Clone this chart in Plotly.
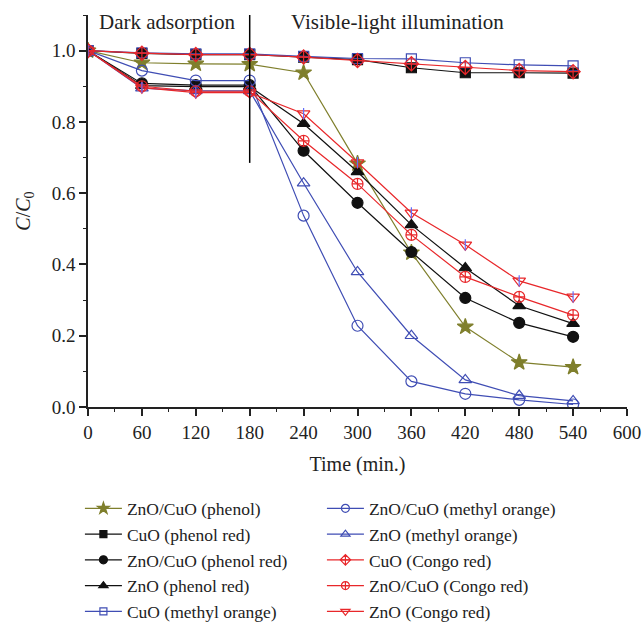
import plotly.graph_objects as go

time = [0, 60, 120, 180, 240, 300, 360, 420, 480, 540]

names = [
    "ZnO/CuO (phenol)", "CuO (phenol red)", "ZnO/CuO (phenol red)", "ZnO (phenol red)",
    "CuO (methyl orange)", "ZnO/CuO (methyl orange)", "ZnO (methyl orange)",
    "CuO (Congo red)", "ZnO/CuO (Congo red)", "ZnO (Congo red)",
]

znocuo_phenol = [1.0, 0.966, 0.963, 0.962, 0.938, 0.683, 0.433, 0.225, 0.125, 0.112]
cuo_phenolred = [1.0, 0.992, 0.989, 0.989, 0.982, 0.975, 0.952, 0.938, 0.938, 0.937]
znocuo_phenolred = [1.0, 0.908, 0.903, 0.903, 0.719, 0.573, 0.435, 0.306, 0.236, 0.197]
zno_phenolred = [1.0, 0.902, 0.899, 0.899, 0.795, 0.660, 0.511, 0.390, 0.284, 0.234]
cuo_mo = [1.0, 0.994, 0.991, 0.991, 0.984, 0.978, 0.977, 0.966, 0.960, 0.957]
znocuo_mo = [1.0, 0.944, 0.916, 0.916, 0.537, 0.228, 0.072, 0.037, 0.020, 0.007]
zno_mo = [1.0, 0.895, 0.887, 0.887, 0.628, 0.379, 0.200, 0.076, 0.032, 0.017]
cuo_congo = [1.0, 0.993, 0.989, 0.989, 0.982, 0.972, 0.963, 0.953, 0.944, 0.941]
znocuo_congo = [1.0, 0.900, 0.886, 0.886, 0.747, 0.626, 0.483, 0.365, 0.309, 0.258]
zno_congo = [1.0, 0.896, 0.882, 0.882, 0.823, 0.686, 0.545, 0.455, 0.354, 0.309]

series = [znocuo_phenol, cuo_phenolred, znocuo_phenolred, zno_phenolred, cuo_mo,
          znocuo_mo, zno_mo, cuo_congo, znocuo_congo, zno_congo]

OLIVE = "#7f7f2c"
BLUE = "#3f4db4"
RED = "#e8272a"
BLACK = "#111111"

colors = [OLIVE, BLACK, BLACK, BLACK, BLUE, BLUE, BLUE, RED, RED, RED]
symbols = ["star", "square", "circle", "triangle-up", "square-open", "circle-open",
           "triangle-up-open", "diamond-cross-open", "circle-cross-open", "triangle-down-open"]
sizes = [12, 10, 11, 11, 10, 11, 11, 11, 11, 11]
legend_sizes = [9, 7, 8, 8, 7, 8, 8, 8, 8, 8]

FONT = "Liberation Serif"
TXT = "#222222"

fig = go.Figure()
for i, (nm, ys) in enumerate(zip(names, series)):
    fig.add_trace(go.Scatter(
        x=time, y=ys, name=nm, mode="lines+markers", showlegend=False,
        line=dict(color=colors[i], width=1.2),
        marker=dict(symbol=symbols[i], size=sizes[i], color=colors[i],
                    line=dict(color=colors[i], width=1.2)),
    ))
# vertical cross inside the down-triangles (ZnO Congo red)
fig.add_trace(go.Scatter(
    x=time, y=zno_congo, mode="markers", showlegend=False, hoverinfo="skip",
    marker=dict(symbol="line-ns-open", size=8, line=dict(color=RED, width=1.2)),
))
# legend entries (smaller symbols, as in the reference)
for i, nm in enumerate(names):
    fig.add_trace(go.Scatter(
        x=[None], y=[None], name=nm, mode="lines+markers",
        line=dict(color=colors[i], width=1.2),
        marker=dict(symbol=symbols[i], size=legend_sizes[i], color=colors[i],
                    line=dict(color=colors[i], width=1.2)),
        legend="legend" if i < 5 else "legend2",
    ))

fig.add_shape(type="line", x0=180, x1=180, y0=0.685, y1=1.1, xref="x", yref="y",
              line=dict(color="black", width=1.5))

fig.add_annotation(x=10, y=1.081, xref="x", yref="y", text="Dark adsorption",
                   showarrow=False, xanchor="left", yanchor="middle",
                   font=dict(family=FONT, size=21, color=TXT))
fig.add_annotation(x=224, y=1.081, xref="x", yref="y", text="Visible-light illumination",
                   showarrow=False, xanchor="left", yanchor="middle",
                   font=dict(family=FONT, size=21, color=TXT))

axis_common = dict(
    showline=True, linecolor=TXT, linewidth=1.5, showgrid=False, zeroline=False,
    ticks="outside", ticklen=7, tickwidth=1.5, tickcolor=TXT,
    tickfont=dict(family=FONT, size=19, color=TXT),
    minor=dict(ticks="outside", ticklen=3, tickwidth=1.2, tickcolor=TXT),
)

fig.update_xaxes(range=[0, 600], tickvals=[0, 60, 120, 180, 240, 300, 360, 420, 480, 540, 600],
                 minor_tickvals=[30, 90, 150, 210, 270, 330, 390, 450, 510, 570],
                 title=dict(text="Time (min.)", font=dict(family=FONT, size=20, color=TXT), standoff=15),
                 **axis_common)
fig.update_yaxes(range=[0, 1.1], tickvals=[0, 0.2, 0.4, 0.6, 0.8, 1.0],
                 ticktext=["0.0", "0.2", "0.4", "0.6", "0.8", "1.0"],
                 minor_tickvals=[0.1, 0.3, 0.5, 0.7, 0.9, 1.1],
                 title=dict(text="<i>C</i>/<i>C</i><sub>0</sub>", font=dict(family=FONT, size=20, color=TXT), standoff=16),
                 **axis_common)

leg_common = dict(font=dict(family=FONT, size=17.5, color=TXT), bgcolor="rgba(0,0,0,0)",
                  xanchor="left", yanchor="top", tracegroupgap=0, itemwidth=37)
fig.update_layout(
    width=642, height=624,
    margin=dict(l=88, r=15, t=15, b=217, autoexpand=False),
    plot_bgcolor="white", paper_bgcolor="white",
    legend=dict(x=-0.015, y=-0.213, **leg_common),
    legend2=dict(x=0.434, y=-0.213, **leg_common),
)

fig.write_html("out.html")
